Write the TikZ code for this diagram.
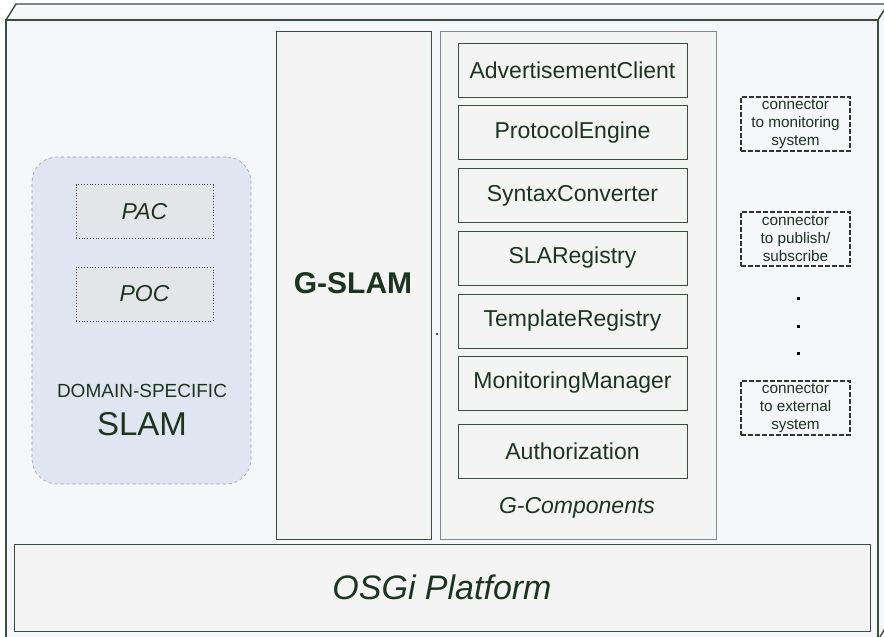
\documentclass[tikz,border=0pt]{standalone}
\usepackage{fontspec}
\setmainfont{Liberation Sans}
\usepackage{tikz}
\usetikzlibrary{positioning}
\definecolor{txtgreen}{RGB}{28,52,32}
\definecolor{edgegreen}{RGB}{58,78,62}
\definecolor{softedge}{RGB}{128,142,132}
\definecolor{frontbg}{RGB}{245,247,250}
\definecolor{boxbg}{RGB}{244,244,244}
\definecolor{domainbg}{RGB}{224,230,241}
\definecolor{agentbg}{RGB}{228,229,232}
\tikzset{
fsize/.style={font=\fontsize{#1}{#1}\selectfont},
fsizeit/.style={font=\fontsize{#1}{#1}\selectfont\itshape},
fsizebf/.style={font=\fontsize{#1}{#1}\selectfont\bfseries},
frame/.style={draw=edgegreen,line width=1.4pt,fill=frontbg,line join=miter},
slab/.style={draw=edgegreen,line width=1pt,fill=boxbg,inner sep=0pt},
gcompframe/.style={draw=softedge,line width=1pt,fill=boxbg,inner sep=0pt},
compbox/.style={draw=edgegreen,line width=0.9pt,fill=boxbg,minimum width=229pt,minimum height=54pt,inner sep=0pt,text=txtgreen,fsize=23},
domainbox/.style={draw=gray!75,dashed,line width=0.6pt,fill=domainbg,rounded corners=25pt,minimum width=219pt,minimum height=327pt,inner sep=0pt},
agentbox/.style={draw=gray!60!black,dotted,line width=0.8pt,fill=agentbg,minimum width=137pt,minimum height=54pt,inner sep=0pt,text=txtgreen,fsizeit=23},
connbox/.style={draw=black!80,dash pattern=on 5pt off 2pt,line width=1.3pt,minimum width=109pt,minimum height=54pt,inner sep=0pt,align=center,text=txtgreen,font=\fontsize{15.3}{18}\selectfont},
vdot/.style={fill=black,minimum size=3pt,inner sep=0pt}
}
\begin{document}
\begin{tikzpicture}[x=1pt,y=-1pt]
\useasboundingbox (0,0) rectangle (884,637);
% outer box
\draw[frame] (6,20) -- (16,4) -- (888,4) -- (878,20) -- cycle;
\draw[frame] (878,20) -- (888,4) -- (888,624) -- (878,640) -- cycle;
\draw[frame] (6,20) rectangle (878,640);
% domain-specific part
\node[domainbox] (domain) at (141.5,320.5) {};
\node[agentbox] (pac) at (144.5,211.5) {PAC};
\node[agentbox] (poc) at (144.5,294) {POC};
\node[text=txtgreen,fsize=19] (domtitle) at (142,391) {DOMAIN-SPECIFIC};
\node[text=txtgreen,fsize=33] (domslam) at (142,424) {SLAM};
% generic part
\node[slab,minimum width=155pt,minimum height=508pt] (gslam) at (353.5,285) {};
\node[text=txtgreen,fsizebf=30] (gslamlbl) at (353,283) {G-SLAM};
\node[gcompframe,minimum width=276pt,minimum height=508pt] (gcomp) at (578,285) {};
\foreach \nm/\txt/\yy in {adv/AdvertisementClient/70,proto/ProtocolEngine/132.5,
  syntax/SyntaxConverter/195.5,slareg/SLARegistry/258,tmplreg/TemplateRegistry/321,
  monmgr/MonitoringManager/383,authz/Authorization/451}
  \node[compbox] (\nm) at (572.5,\yy) {\txt};
\node[text=txtgreen,fsizeit=23] (gcomplbl) at (577,508) {G-Components};
\node[fill=black!70,minimum size=1.2pt,inner sep=0pt] (speck) at (437,334) {};
% connectors
\node[connbox] (connmon) at (795.5,124) {connector\\to monitoring\\system};
\node[connbox] (connpub) at (795.5,239) {connector\\to publish/\\subscribe};
\node[vdot] (dota) at (798,298) {};
\node[vdot] (dotb) at (798,326) {};
\node[vdot] (dotc) at (798,353) {};
\node[connbox] (connext) at (795.5,408) {connector\\to external\\system};
% platform
\node[slab,minimum width=856pt,minimum height=87.5pt,text=txtgreen,fsizeit=34] (osgi) at (442,587.75) {OSGi Platform};
\end{tikzpicture}
\end{document}
